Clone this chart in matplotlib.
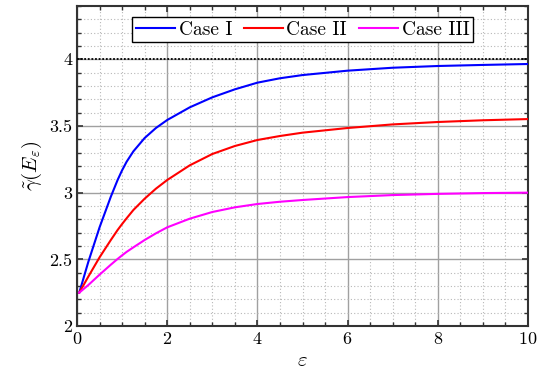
import matplotlib
matplotlib.use("Agg")
import matplotlib.pyplot as plt
from matplotlib.ticker import MultipleLocator

plt.rcParams["font.family"] = "serif"
plt.rcParams["font.serif"] = ["cmr10"]
plt.rcParams["mathtext.fontset"] = "cm"
plt.rcParams["axes.formatter.use_mathtext"] = True

# valores
eps = [0.05, 0.25, 0.5, 0.75, 0.9, 1.0, 1.1, 1.25, 1.5, 1.75, 2.0, 2.5, 3.0, 3.5,
       4.0, 4.5, 5.0, 6.0, 7.0, 8.0, 9.0, 10.0]
caso1 = [2.25, 2.48, 2.74, 2.97, 3.095, 3.168, 3.232, 3.31, 3.41, 3.485, 3.545, 3.64,
         3.715, 3.775, 3.825, 3.858, 3.882, 3.915, 3.937, 3.95, 3.958, 3.965]
caso2 = [2.25, 2.37, 2.515, 2.645, 2.72, 2.765, 2.808, 2.87, 2.955, 3.03, 3.095, 3.205,
         3.29, 3.35, 3.395, 3.425, 3.45, 3.485, 3.512, 3.53, 3.543, 3.552]
caso3 = [2.25, 2.307, 2.385, 2.46, 2.503, 2.53, 2.556, 2.59, 2.645, 2.695, 2.74, 2.805,
         2.855, 2.89, 2.915, 2.932, 2.945, 2.967, 2.982, 2.991, 2.997, 3.0]
limite = 4.0

fig = plt.figure(figsize=(5.45, 3.87), dpi=100)
ax = fig.add_axes([0.1413, 0.1576, 0.8275, 0.8269])

ax.axhline(limite, color="black", linestyle=(0, (1, 1)), linewidth=1.3, zorder=3)
ax.plot(eps, caso1, color="#0000ff", linewidth=1.5, label="Case I", zorder=4)
ax.plot(eps, caso2, color="#ff0000", linewidth=1.5, label="Case II", zorder=4)
ax.plot(eps, caso3, color="#ff00ff", linewidth=1.5, label="Case III", zorder=4)

ax.set_xlim(0, 10)
ax.set_ylim(2, 4.4)
ax.xaxis.set_major_locator(MultipleLocator(2))
ax.xaxis.set_minor_locator(MultipleLocator(0.5))
ax.yaxis.set_major_locator(MultipleLocator(0.5))
ax.yaxis.set_minor_locator(MultipleLocator(0.1))
ax.set_yticks([2, 2.5, 3, 3.5, 4])
ax.set_yticklabels(["2", "2.5", "3", "3.5", "4"])

ax.grid(which="major", color="#a0a0a0", linestyle="-", linewidth=1.0)
ax.grid(which="minor", color="#b8b8b8", linestyle=(0, (1, 2)), linewidth=0.8)
ax.set_axisbelow(True)

ax.tick_params(which="both", direction="in", top=True, right=True, colors="#333333",
               labelcolor="black", labelsize=13)
ax.tick_params(which="major", length=4, width=1.2)
ax.tick_params(which="minor", length=3, width=1.0)
for s in ax.spines.values():
    s.set_color("#333333")
    s.set_linewidth(1.5)

ax.set_xlabel(r"$\varepsilon$", fontsize=15)
ax.set_ylabel(r"$\tilde{\gamma}(E_\varepsilon)$", fontsize=15)

leg = ax.legend(loc="upper center", ncol=3, fontsize=14, fancybox=False,
                framealpha=1, edgecolor="black", borderpad=0.2, handlelength=2.0,
                handletextpad=0.2, columnspacing=0.6, borderaxespad=0.55)
leg.get_frame().set_linewidth(1.0)

fig.savefig("out.png", dpi=100)
